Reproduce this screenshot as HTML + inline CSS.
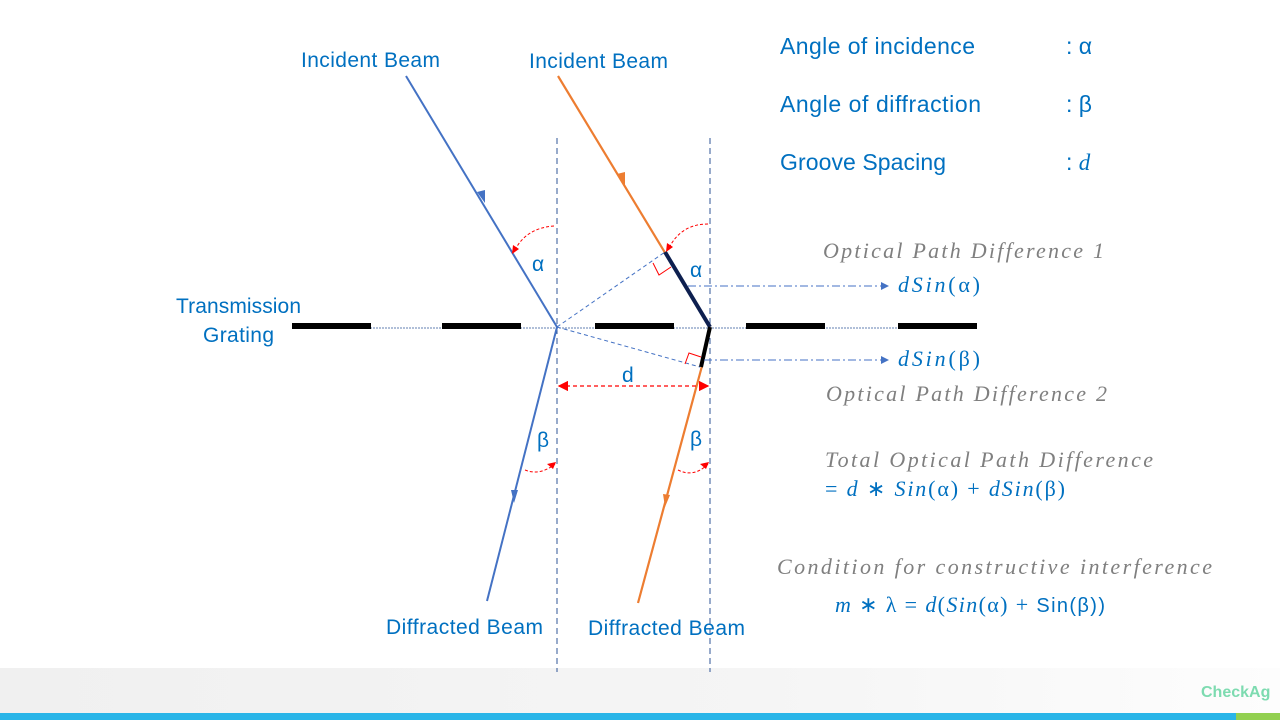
<!DOCTYPE html>
<html><head><meta charset="utf-8"><style>
body{margin:0;width:1280px;height:720px;overflow:hidden;background:#fff;font-family:"Liberation Sans",sans-serif}
</style></head><body>
<svg width="1280" height="720" viewBox="0 0 1280 720" xmlns="http://www.w3.org/2000/svg">
<defs>
<linearGradient id="g" x1="0" x2="1"><stop offset="0" stop-color="#f0f0f0"/><stop offset="0.6" stop-color="#f5f5f5"/><stop offset="1" stop-color="#fdfdfd"/></linearGradient>
<marker id="ab" markerWidth="8" markerHeight="8" refX="7" refY="4" orient="auto"><path d="M0,0 L8,4 L0,8 z" fill="#4472c4"/></marker>
<marker id="ar" markerWidth="8" markerHeight="8" refX="7" refY="4" orient="auto-start-reverse"><path d="M0,0 L8,4 L0,8 z" fill="#f00"/></marker>
</defs>
<rect x="0" y="668" width="1280" height="45" fill="url(#g)"/>
<rect x="0" y="713" width="1236" height="7" fill="#29b5e8"/>
<rect x="1236" y="713" width="44" height="7" fill="#92d050"/>
<text x="1201" y="697" font-size="16" font-weight="bold" fill="#7ddbb0">CheckAg</text>
<g stroke="#2f5597" stroke-width="1" stroke-dasharray="6,4">
<line x1="557" y1="138" x2="557" y2="672"/><line x1="710" y1="138" x2="710" y2="672"/></g>
<line x1="292" y1="328" x2="977" y2="328" stroke="#2f5597" stroke-width="0.8" stroke-dasharray="2,1"/>
<g fill="#000"><rect x="292" y="323" width="79" height="6"/><rect x="442" y="323" width="79" height="6"/><rect x="595" y="323" width="79" height="6"/><rect x="746" y="323" width="79" height="6"/><rect x="898" y="323" width="79" height="6"/></g>
<g stroke="#4472c4" stroke-width="1" stroke-dasharray="4,3"><line x1="557" y1="327" x2="665" y2="252"/><line x1="557" y1="327" x2="700" y2="367"/></g>
<g stroke="#4472c4" stroke-width="2" fill="none">
<line x1="406" y1="76" x2="557" y2="327"/><line x1="557" y1="327" x2="487" y2="601"/></g>
<path d="M477,192 L485,203 L485,190z M511,490 L514,503 L518,490z" fill="#4472c4"/>
<g stroke="#ed7d31" stroke-width="2.2" fill="none">
<line x1="558" y1="76" x2="710" y2="327"/><line x1="702" y1="366" x2="638" y2="603"/></g>
<path d="M617,174 L625,185 L625,172z M663,494 L665,507 L670,495z" fill="#ed7d31"/>
<line x1="665" y1="252" x2="710" y2="327" stroke="#0d1f4f" stroke-width="4"/>
<line x1="710" y1="327" x2="701" y2="367" stroke="#000" stroke-width="4"/>
<path d="M653,263 L659,275 L671,267" stroke="#f00" fill="none" stroke-width="1"/>
<path d="M685,364 L689,353 L701,357" stroke="#f00" fill="none" stroke-width="1"/>
<g stroke="#4472c4" stroke-width="1" stroke-dasharray="8,3,2,3" marker-end="url(#ab)"><line x1="688" y1="286" x2="888" y2="286"/><line x1="704" y1="360" x2="888" y2="360"/></g>
<line x1="559" y1="386" x2="708" y2="386" stroke="#f00" stroke-width="1.3" stroke-dasharray="4,3" marker-start="url(#ar)" marker-end="url(#ar)"/>
<g stroke="#f00" stroke-width="1" fill="none" stroke-dasharray="3,2">
<path d="M554,226 Q525,228 514,252"/><path d="M708,224 Q680,224 668,250"/>
<path d="M525,470 Q540,476 555,464"/><path d="M678,470 Q694,478 708,464"/></g>
<path d="M512,254 L513,245 L519,249z M666,252 L667,243 L673,247z M556,462 L547,464 L553,469z M709,462 L700,464 L706,469z" fill="#f00"/>
<g fill="#0070c0" font-size="21">
<text x="301" y="67" textLength="139">Incident Beam</text><text x="529" y="68" textLength="139">Incident Beam</text>
<text x="176" y="313" textLength="125">Transmission</text><text x="203" y="342" textLength="71">Grating</text>
<text x="386" y="634" textLength="157">Diffracted Beam</text><text x="588" y="635" textLength="157">Diffracted Beam</text>
<text x="532" y="271">α</text><text x="690" y="277">α</text>
<text x="537" y="447">β</text><text x="690" y="446">β</text>
<text x="622" y="382">d</text>
</g>
<g fill="#0070c0" font-size="23">
<text x="780" y="54" textLength="195">Angle of incidence</text><text x="1066" y="54">:  α</text>
<text x="780" y="112" textLength="201">Angle of diffraction</text><text x="1066" y="112">:  β</text>
<text x="780" y="170" textLength="166">Groove Spacing</text><text x="1066" y="170">:  <tspan font-family="Liberation Serif" font-style="italic">d</tspan></text>
</g>
<g font-family="Liberation Serif" font-size="22" font-style="italic" fill="#7f7f7f">
<text x="823" y="258" textLength="281">Optical Path Difference 1</text>
<text x="826" y="401" textLength="281">Optical Path Difference 2</text>
<text x="825" y="467" textLength="328">Total Optical Path Difference</text>
<text x="777" y="574" textLength="435">Condition for constructive interference</text>
</g>
<g font-family="Liberation Serif" font-size="22" fill="#0070c0">
<text x="898" y="292" textLength="82"><tspan font-style="italic">dSin</tspan>(α)</text>
<text x="898" y="366" textLength="82"><tspan font-style="italic">dSin</tspan>(β)</text>
<text x="825" y="496" textLength="240">= <tspan font-style="italic">d</tspan> ∗ <tspan font-style="italic">Sin</tspan>(α) + <tspan font-style="italic">dSin</tspan>(β)</text>
<text x="835" y="612" textLength="270"><tspan font-style="italic">m</tspan> ∗ λ =  <tspan font-style="italic">d</tspan>(<tspan font-style="italic">Sin</tspan>(α) + <tspan font-family="Liberation Sans" font-size="20">Sin(β))</tspan></text>
</g>
</svg>
</body></html>
